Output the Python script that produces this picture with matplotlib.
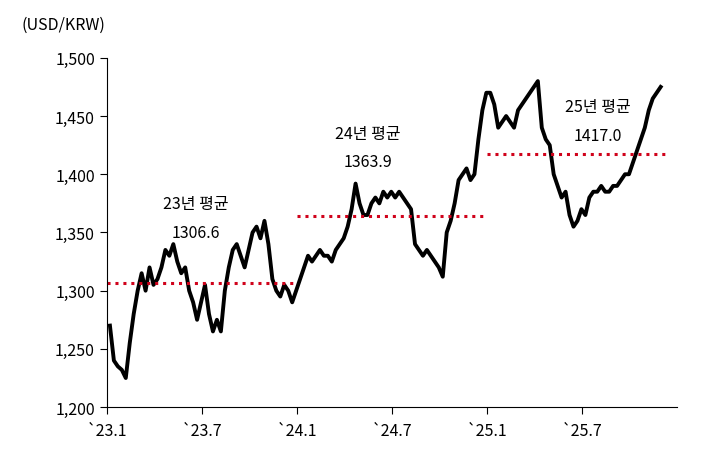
import numpy as np
import matplotlib
matplotlib.use("Agg")
import matplotlib.pyplot as plt

plt.rcParams['font.family'] = ['Noto Sans CJK KR', 'DejaVu Sans']

# weekly USD/KRW values, Jan 2023 - Nov 2025 (4 per month)
rate = [
    1270, 1240, 1235, 1232, 1225, 1255, 1280, 1300, 1315, 1300, 1320, 1305,
    1310, 1320, 1335, 1330, 1340, 1325, 1315, 1320, 1300, 1290, 1275, 1290,
    1305, 1280, 1265, 1275, 1265, 1300, 1320, 1335, 1340, 1330, 1320, 1335,
    1350, 1355, 1345, 1360, 1340, 1310, 1300, 1295, 1305, 1300, 1290, 1300,
    1310, 1320, 1330, 1325, 1330, 1335, 1330, 1330, 1325, 1335, 1340, 1345,
    1355, 1370, 1392, 1375, 1365, 1365, 1375, 1380, 1375, 1385, 1380, 1385,
    1380, 1385, 1380, 1375, 1370, 1340, 1335, 1330, 1335, 1330, 1325, 1320,
    1312, 1350, 1360, 1375, 1395, 1400, 1405, 1395, 1400, 1430, 1455, 1470,
    1470, 1460, 1440, 1445, 1450, 1445, 1440, 1455, 1460, 1465, 1470, 1475,
    1480, 1440, 1430, 1425, 1400, 1390, 1380, 1385, 1365, 1355, 1360, 1370,
    1365, 1380, 1385, 1385, 1390, 1385, 1385, 1390, 1390, 1395, 1400, 1400,
    1410, 1420, 1430, 1440, 1455, 1465, 1470, 1475,
]
months = np.arange(len(rate)) / 4 + 0.2

avg_years = ["23년 평균", "24년 평균", "25년 평균"]
avg_vals = [1306.6, 1363.9, 1417.0]
avg_span = [(0, 12), (12, 24), (24, 35.2)]

tick_pos = [0, 6, 12, 18, 24, 30]
tick_labels = ["`23.1", "`23.7", "`24.1", "`24.7", "`25.1", "`25.7"]

fig = plt.figure(figsize=(7.07, 4.56), dpi=100)
ax = fig.add_axes([0.151, 0.105, 0.807, 0.766])
ax.plot(months, rate, color="black", lw=2.8, solid_joinstyle="round")

# (x, y of title, y of value)
label_pos = [(5.6, 1375, 1350), (16.5, 1435, 1411), (31.0, 1458, 1433)]
for name, v, (a, b), (lx, ty, vy) in zip(avg_years, avg_vals, avg_span, label_pos):
    ax.plot([a, b], [v, v], color="#d0021b", lw=2.2, ls=(0, (1, 1.6)))
    ax.text(lx, ty, name, ha="center", va="center", fontsize=11.5)
    ax.text(lx, vy, f"{v:.1f}", ha="center", va="center", fontsize=11.5)

ax.set_xlim(0, 36)
ax.set_ylim(1200, 1500)
ax.set_yticks(range(1200, 1501, 50))
ax.set_yticklabels([f"{v:,}" for v in range(1200, 1501, 50)], fontsize=11.5)
ax.set_xticks(tick_pos)
ax.set_xticklabels(tick_labels, fontsize=11.5)
ax.tick_params(axis="x", direction="out", length=5, pad=6)
ax.tick_params(axis="y", direction="out", length=5)
for s in ("top", "right"):
    ax.spines[s].set_visible(False)
fig.text(0.03, 0.935, "(USD/KRW)", fontsize=11.5)

fig.savefig("out.png", dpi=100)
